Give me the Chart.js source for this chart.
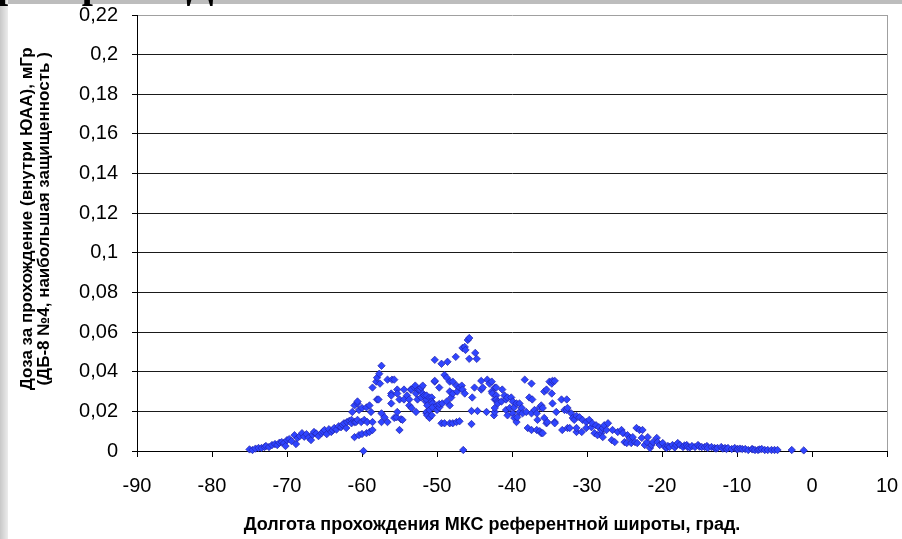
<!DOCTYPE html>
<html>
<head>
<meta charset="utf-8">
<script src="https://cdn.jsdelivr.net/npm/chart.js@4.4.1/dist/chart.umd.min.js"></script>
<style>
  body { margin: 0; background: #fff; overflow: hidden; }
  #wrap { position: relative; width: 902px; height: 539px; overflow: hidden; }
  #topband { position: absolute; left: 0; top: 0; width: 902px; height: 4px; background: #bdbdbd; }
  #leftband { position: absolute; left: 0; top: 0; width: 8px; height: 539px; background: linear-gradient(to right, #c8c8c8, #ececec); }
  #heading { position: absolute; left: -3px; top: -36px; font: bold 40px "Liberation Serif", serif; line-height: 40px; color: #000; white-space: nowrap; }
  canvas { position: absolute; left: 0; top: 0; }
</style>
</head>
<body>
<div id="wrap">
  <canvas id="chart" width="902" height="539"></canvas>
  <div id="topband"></div>
  <div id="leftband"></div>
  <div id="heading">рапорт по ДБ-8 от 01.07.2010</div>
</div>
<script>
// Longitude (deg) / dose (mGy) pairs
const band75to60 = [
  [-75.0, 0.0008], [-74.6, 0.0005], [-74.2, 0.0012], [-73.8, 0.0015], [-73.4, 0.0015], [-73.0, 0.002],
  [-72.8, 0.0025], [-72.4, 0.002], [-72.0, 0.003], [-71.6, 0.0035], [-71.3, 0.003], [-71.0, 0.0042],
  [-70.7, 0.0045], [-70.4, 0.004], [-70.2, 0.0025], [-70.0, 0.0055], [-69.7, 0.006], [-69.4, 0.005],
  [-69.0, 0.008], [-68.8, 0.0035], [-68.6, 0.0065], [-68.3, 0.0075], [-68.0, 0.009], [-67.7, 0.0072],
  [-67.4, 0.0085], [-67.1, 0.0068], [-66.8, 0.0055], [-66.6, 0.0082], [-66.4, 0.0096], [-66.1, 0.0088],
  [-65.8, 0.0075], [-65.4, 0.009], [-65.2, 0.0098], [-65.0, 0.0106], [-64.7, 0.0085], [-64.4, 0.011],
  [-64.1, 0.0096], [-63.9, 0.0105], [-63.7, 0.0116], [-63.4, 0.0108], [-63.1, 0.0125], [-62.8, 0.012],
  [-62.6, 0.0132], [-62.4, 0.014], [-62.1, 0.0116], [-62.0, 0.0146], [-61.7, 0.0152], [-61.4, 0.0157],
  [-61.4, 0.014], [-61.3, 0.0197], [-61.0, 0.023], [-61.0, 0.0146], [-61.0, 0.007], [-60.8, 0.0146],
  [-60.6, 0.0157], [-60.6, 0.024], [-60.6, 0.025], [-60.4, 0.0207], [-60.4, 0.008], [-60.1, 0.0146],
  [-60.0, 0.0217], [-60.0, 0.0086], [-59.8, 0.0]
];
const band60to50 = [
  [-59.7, 0.0157], [-59.4, 0.022], [-59.4, 0.009], [-59.3, 0.0146], [-59.0, 0.023], [-59.0, 0.0096],
  [-58.8, 0.0197], [-58.6, 0.0106], [-58.6, 0.0146], [-58.6, 0.032], [-58.1, 0.035], [-58.0, 0.037],
  [-58.0, 0.026], [-57.8, 0.026], [-57.7, 0.039], [-57.6, 0.034], [-57.4, 0.043], [-57.4, 0.019],
  [-57.4, 0.0146], [-57.0, 0.017], [-56.6, 0.0146], [-56.6, 0.036], [-56.1, 0.029], [-56.1, 0.024],
  [-56.1, 0.028], [-56.0, 0.036], [-55.7, 0.036], [-55.7, 0.0167], [-55.4, 0.017], [-55.3, 0.0197],
  [-55.3, 0.031], [-55.3, 0.029], [-55.0, 0.0106], [-55.0, 0.026], [-54.8, 0.016], [-54.6, 0.0157],
  [-54.4, 0.026], [-54.4, 0.031], [-54.0, 0.028], [-53.7, 0.026], [-53.7, 0.023], [-53.5, 0.031],
  [-53.4, 0.031], [-53.4, 0.0217], [-53.0, 0.032], [-52.9, 0.033], [-52.8, 0.029], [-52.8, 0.0197],
  [-52.6, 0.026], [-52.5, 0.031], [-52.3, 0.031], [-52.1, 0.032], [-52.1, 0.027], [-51.9, 0.033],
  [-51.9, 0.029], [-51.7, 0.028], [-51.5, 0.025], [-51.4, 0.026], [-51.4, 0.028], [-51.4, 0.019],
  [-51.4, 0.0197], [-51.3, 0.023], [-51.3, 0.018], [-51.0, 0.0207], [-51.0, 0.027], [-51.0, 0.0167],
  [-50.7, 0.018], [-50.7, 0.027], [-50.7, 0.025], [-50.6, 0.024], [-50.6, 0.022], [-50.3, 0.035],
  [-50.3, 0.046], [-50.3, 0.0354], [-50.0, 0.0207], [-50.0, 0.023]
];
const band50to42 = [
  [-49.7, 0.022], [-49.7, 0.032], [-49.7, 0.0237], [-49.4, 0.044], [-49.4, 0.014], [-49.3, 0.024],
  [-49.0, 0.0384], [-49.0, 0.014], [-48.7, 0.037], [-48.7, 0.025], [-48.6, 0.045], [-48.3, 0.035],
  [-48.3, 0.030], [-48.3, 0.023], [-48.3, 0.014], [-48.1, 0.027], [-47.9, 0.035], [-47.9, 0.029],
  [-47.9, 0.014], [-47.5, 0.0475], [-47.4, 0.033], [-47.4, 0.0146], [-47.3, 0.030], [-47.0, 0.032],
  [-47.0, 0.015], [-46.7, 0.033], [-46.6, 0.052], [-46.6, 0.031], [-46.5, 0.0005], [-46.3, 0.0525],
  [-46.3, 0.029], [-46.2, 0.051], [-45.9, 0.056], [-45.7, 0.057], [-45.7, 0.0465], [-45.4, 0.0202],
  [-45.4, 0.0136], [-45.3, 0.027], [-45.0, 0.032], [-44.9, 0.0495], [-44.7, 0.0465], [-44.6, 0.0202],
  [-44.1, 0.0354], [-44.1, 0.031], [-43.9, 0.032], [-43.4, 0.0197], [-43.3, 0.036], [-43.0, 0.034],
  [-42.7, 0.030], [-42.7, 0.035], [-42.6, 0.029], [-42.4, 0.018], [-42.3, 0.0197], [-42.3, 0.026],
  [-42.3, 0.032], [-42.3, 0.0217], [-42.1, 0.032], [-42.1, 0.028], [-42.1, 0.026]
];
const band42to32 = [
  [-41.9, 0.025], [-41.9, 0.024], [-41.4, 0.025], [-41.3, 0.031], [-41.0, 0.028], [-40.8, 0.026],
  [-40.8, 0.0207], [-40.6, 0.027], [-40.6, 0.018], [-40.3, 0.0217], [-40.1, 0.027], [-39.9, 0.025],
  [-39.9, 0.019], [-39.7, 0.022], [-39.7, 0.0167], [-39.4, 0.024], [-39.4, 0.0146], [-39.3, 0.017],
  [-39.0, 0.024], [-39.0, 0.0197], [-38.7, 0.0217], [-38.6, 0.019], [-38.3, 0.036], [-38.1, 0.0197],
  [-37.9, 0.0116], [-37.7, 0.027], [-37.4, 0.034], [-37.4, 0.019], [-37.4, 0.0106], [-37.3, 0.026],
  [-37.0, 0.0207], [-36.7, 0.019], [-36.7, 0.0106], [-36.6, 0.0157], [-36.3, 0.022], [-36.3, 0.010],
  [-36.1, 0.023], [-36.1, 0.009], [-35.9, 0.0217], [-35.9, 0.009], [-35.7, 0.030], [-35.7, 0.0167],
  [-35.4, 0.031], [-35.4, 0.014], [-35.3, 0.0146], [-35.0, 0.035], [-34.7, 0.034], [-34.7, 0.029],
  [-34.6, 0.0354], [-34.6, 0.024], [-34.3, 0.0354], [-34.3, 0.0146], [-34.3, 0.014], [-34.1, 0.0197],
  [-33.4, 0.026], [-33.3, 0.0106], [-33.0, 0.0207], [-32.7, 0.026], [-32.7, 0.0207], [-32.6, 0.0217],
  [-32.6, 0.0116], [-32.3, 0.0116], [-32.1, 0.019]
];
const band32to20 = [
  [-31.9, 0.0167], [-31.7, 0.0157], [-31.4, 0.0177], [-31.4, 0.0096], [-31.4, 0.0116], [-31.0, 0.017],
  [-30.7, 0.0096], [-30.6, 0.0157], [-30.1, 0.0146], [-30.1, 0.0116], [-29.7, 0.0157], [-29.4, 0.012],
  [-29.3, 0.014], [-29.0, 0.009], [-28.8, 0.013], [-28.6, 0.008], [-28.4, 0.012], [-28.1, 0.009],
  [-28.1, 0.0106], [-27.9, 0.007], [-27.9, 0.0116], [-27.7, 0.013], [-27.4, 0.0106], [-27.2, 0.014],
  [-26.7, 0.0055], [-26.6, 0.0106], [-26.3, 0.0045], [-25.9, 0.0096], [-25.4, 0.0106], [-25.2, 0.009],
  [-25.0, 0.0045], [-24.7, 0.004], [-24.6, 0.008], [-24.3, 0.0066], [-24.1, 0.004], [-23.9, 0.007],
  [-23.6, 0.0045], [-23.4, 0.0116], [-23.3, 0.004], [-23.0, 0.0106], [-22.7, 0.0066], [-22.6, 0.0106],
  [-22.3, 0.003], [-22.0, 0.0045], [-21.9, 0.007], [-21.6, 0.0015], [-21.4, 0.003], [-21.2, 0.0045],
  [-20.7, 0.0066], [-20.6, 0.0045], [-20.3, 0.003]
];
const band20to0 = [
  [-19.9, 0.004], [-19.6, 0.002], [-19.4, 0.0015], [-19.2, 0.0025], [-19.0, 0.002], [-18.6, 0.003],
  [-18.3, 0.0018], [-18.1, 0.003], [-17.9, 0.004], [-17.6, 0.003], [-17.2, 0.002], [-17.0, 0.0028],
  [-16.7, 0.003], [-16.6, 0.002], [-16.3, 0.0018], [-16.0, 0.0025], [-15.6, 0.002], [-15.2, 0.003],
  [-15.0, 0.0022], [-14.7, 0.002], [-14.3, 0.002], [-14.0, 0.0025], [-13.9, 0.0015], [-13.4, 0.002],
  [-13.0, 0.0015], [-12.8, 0.0012], [-12.6, 0.0015], [-12.1, 0.002], [-11.9, 0.0012], [-11.6, 0.0015],
  [-11.4, 0.001], [-11.2, 0.0015], [-10.7, 0.001], [-10.3, 0.0015], [-10.0, 0.0008], [-9.9, 0.001],
  [-9.6, 0.0012], [-9.3, 0.001], [-8.9, 0.001], [-8.5, 0.0005], [-8.0, 0.001], [-7.9, 0.0008],
  [-7.6, 0.0005], [-7.2, 0.0005], [-7.0, 0.0008], [-6.7, 0.001], [-6.3, 0.0005], [-5.9, 0.0005],
  [-5.4, 0.0005], [-5.0, 0.0005], [-4.6, 0.0005], [-2.7, 0.0005], [-1.1, 0.0003]
];

// trailing / leading spaces nudge the titles off-centre like in the original
const xTitle = 'Долгота прохождения МКС референтной широты, град.        ';
const yTitle = ['      Доза за прохождение (внутри ЮАА), мГр', '      (ДБ-8 №4, наибольшая защищенность )'];

const points = [].concat(band75to60, band60to50, band50to42, band42to32, band32to20, band20to0)
    .map(([x, y]) => ({ x, y }));

const tickFont = { family: '"Liberation Sans", Arial, sans-serif', size: 20 };
const titleFont = { family: '"Liberation Sans", Arial, sans-serif', size: 17, weight: 'bold', lineHeight: 1.0 };

new Chart(document.getElementById('chart').getContext('2d'), {
    type: 'scatter',
    data: {
        datasets: [{
            data: points,
            pointStyle: 'rectRot',
            pointRadius: 3.7,
            pointHoverRadius: 3.7,
            backgroundColor: '#2f45ff',
            borderColor: '#2222a8',
            borderWidth: 0.7,
            clip: false
        }]
    },
    options: {
        responsive: false,
        animation: false,
        layout: { padding: { top: 15, right: 15, left: 0, bottom: 0 } },
        plugins: { legend: { display: false }, tooltip: { enabled: false } },
        scales: {
            x: {
                type: 'linear',
                min: -90,
                max: 10,
                afterFit: s => { s.height = 88; s.paddingLeft = 0; s.paddingRight = 0; },
                ticks: { stepSize: 10, color: '#000', font: tickFont, padding: 17, maxRotation: 0 },
                grid: {
                    drawOnChartArea: true,
                    color: ctx => ctx.tick && ctx.tick.value === 10 ? '#a0a0a0' : 'rgba(0,0,0,0)',
                    tickColor: '#000',
                    tickLength: 6
                },
                border: { color: '#000', width: 1 },
                title: {
                    display: true, text: xTitle, color: '#000',
                    font: { ...titleFont, size: 18, lineHeight: 1.2 }, padding: { top: 0, bottom: 3 }
                }
            },
            y: {
                min: 0,
                max: 0.22,
                afterFit: s => { s.width = 137; s.paddingTop = 0; s.paddingBottom = 0; },
                ticks: {
                    stepSize: 0.02,
                    color: '#000',
                    font: tickFont,
                    padding: 14,
                    callback: v => String(Math.round(v * 100) / 100).replace('.', ',')
                },
                grid: {
                    color: ctx => ctx.tick && Math.abs(ctx.tick.value - 0.22) < 1e-9 ? '#a0a0a0' : '#1a1a1a',
                    tickColor: '#000',
                    tickLength: 5
                },
                border: { color: '#000', width: 1 },
                title: { display: true, text: yTitle, color: '#000', font: titleFont, padding: { top: 18.5, bottom: 0 } }
            }
        }
    }
});
</script>
</body>
</html>
